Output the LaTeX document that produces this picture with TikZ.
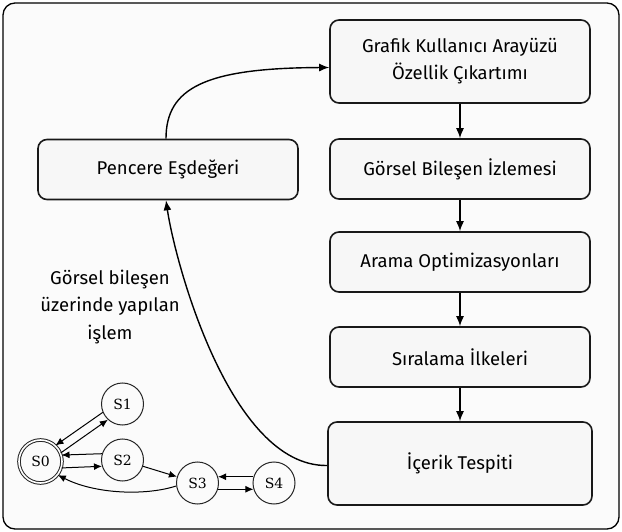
\documentclass[tikz,border=0pt]{standalone}
\usepackage{fontspec}
\setmainfont{Fira Sans}
\newfontfamily\statefont{DejaVu Serif}
\usetikzlibrary{arrows.meta}

\tikzset{
  stage/.style={draw=black!90, line width=1.6pt, rounded corners=9pt, fill=black!3,
    minimum width=260pt, minimum height=60pt, align=center, inner sep=0pt,
    font=\fontsize{18.5}{27}\selectfont},
  flow/.style={line width=1.4pt, -{Latex[length=10pt,width=8pt]}},
  state/.style={circle, draw=black!85, line width=1pt, minimum size=42pt, inner sep=0pt,
    font=\statefont\fontsize{14}{14}\selectfont},
  accept/.style={state, double, double distance=1.6pt, minimum size=43pt},
  trans/.style={line width=1pt, -{Latex[length=8pt,width=7pt]}},
  note/.style={align=center, font=\fontsize{18.5}{27.5}\selectfont}
}

\begin{document}
\begin{tikzpicture}[x=1pt, y=-1pt]
\useasboundingbox (0,0) rectangle (622,532);
% outer frame
\draw[line width=1.3pt, rounded corners=12pt, fill=black!1.5] (3,3) rectangle (619,529);

% processing pipeline
\node[stage, minimum height=83pt] (gui) at (460,61.5) {Grafik Kullanıcı Arayüzü\\Özellik Çıkartımı};
\node[stage] (track) at (460,169) {Görsel Bileşen İzlemesi};
\node[stage] (search) at (460,262) {Arama Optimizasyonları};
\node[stage] (order) at (460,357) {Sıralama İlkeleri};
\node[stage, minimum height=83pt, minimum width=264pt] (content) at (460,463.5) {İçerik Tespiti};
\node[stage] (window) at (168,169.5) {Pencere Eşdeğeri};

\draw[flow] (gui) -- (track);
\draw[flow] (track) -- (search);
\draw[flow] (search) -- (order);
\draw[flow] (order) -- (content);

\draw[flow] ([xshift=-2pt]window.north) .. controls (166,88) and (205,68) .. ([yshift=-6pt]gui.west);
\draw[flow] ([yshift=-2pt]content.west) .. controls (230,467) and (175,262) .. ([xshift=-2pt]window.south);

\node[note] (op) at (110,307) {Görsel bileşen\\üzerinde yapılan\\işlem};

% state machine
\node[accept] (s0) at (40.5,461.5) {S0};
\node[state] (s1) at (122.5,404) {S1};
\node[state] (s2) at (122.5,460) {S2};
\node[state] (s3) at (197.5,483) {S3};
\node[state] (s4) at (274,483) {S4};

\draw[trans] (s1.203) -- (s0.47);
\draw[trans] (s0.23) -- (s1.227);
\draw[trans] (s2.163) -- (s0.17);
\draw[trans] (s0.-17) -- (s2.197);
\draw[trans] (s2) -- (s3);
\draw[trans] (s3.188) .. controls (145,496) and (95,494) .. (s0.-38);
\draw[trans] (s4.163) -- (s3.17);
\draw[trans] (s3.-17) -- (s4.197);
\end{tikzpicture}
\end{document}
